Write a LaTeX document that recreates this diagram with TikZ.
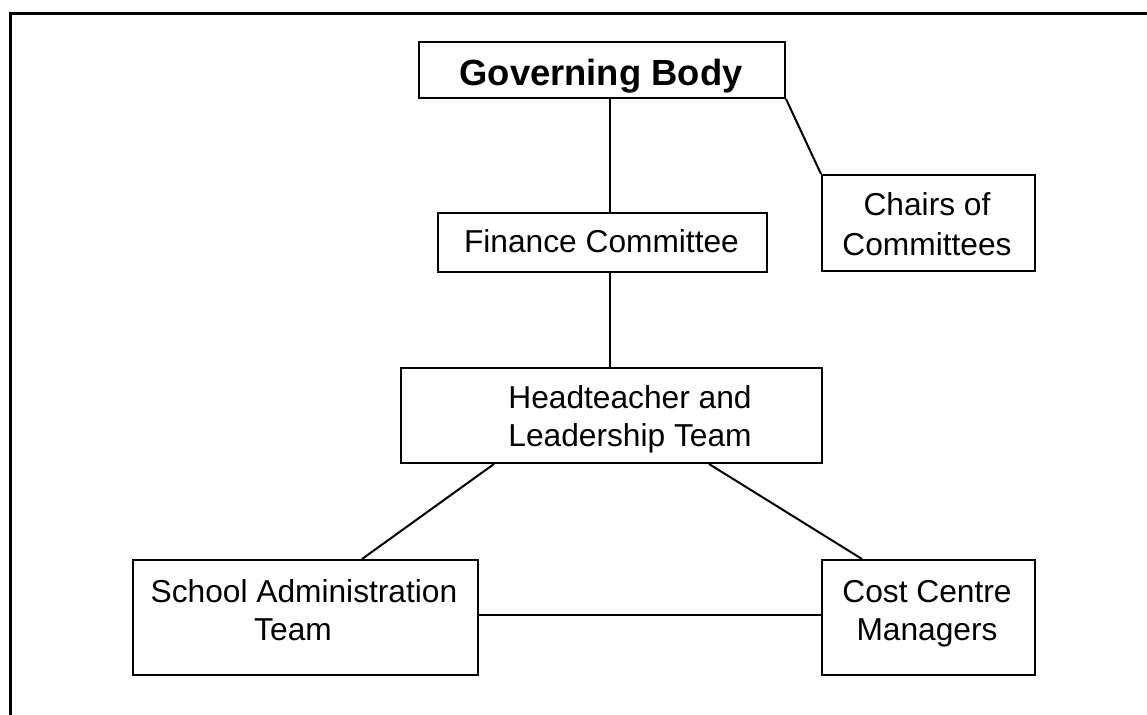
\documentclass[tikz,border=0pt]{standalone}
\usepackage{fontspec}
\setmainfont{Liberation Sans}
\begin{document}
\begin{tikzpicture}[x=1pt,y=-1pt,
  box/.style={draw=black, line width=2pt, rectangle, inner sep=0pt, anchor=north west},
  lbl/.style={anchor=base, inner sep=0pt, font=\fontsize{31.7}{37}\selectfont},
  blbl/.style={anchor=base, inner sep=0pt, font=\fontsize{36.4}{42}\selectfont\bfseries},
  conn/.style={draw=black, line width=2pt}]
\useasboundingbox (0,0) rectangle (1147,714);
\draw[line width=3pt] (1160,14) -- (10.5,14) -- (10.5,730);
% boxes
\node[box, minimum width=366pt, minimum height=56pt] (gb) at (418,41) {};
\node[box, minimum width=329pt, minimum height=59pt] (fc) at (437,212) {};
\node[box, minimum width=213pt, minimum height=96pt] (ch) at (821,174) {};
\node[box, minimum width=421pt, minimum height=95pt] (ht) at (400,367) {};
\node[box, minimum width=345pt, minimum height=115pt] (sa) at (132,559) {};
\node[box, minimum width=213pt, minimum height=115pt] (cc) at (821,559) {};
% texts
\node[blbl] (gbt) at (601,86) {Governing Body};
\node[lbl] (fct) at (601.5,252) {Finance Committee};
\node[lbl] (ch1) at (927,215) {Chairs of};
\node[lbl] (ch2) at (927,255) {Committees};
\node[lbl] (ht1) at (630,408) {Headteacher and};
\node[lbl] (ht2) at (630,446) {Leadership Team};
\node[lbl] (sa1) at (304,602) {School Administration};
\node[lbl] (sa2) at (293,640) {Team};
\node[lbl] (cc1) at (927,602) {Cost Centre};
\node[lbl] (cc2) at (927,640) {Managers};
% connectors
\coordinate (vx) at (610,0);
\coordinate (hta) at (494,0);
\coordinate (htb) at (709,0);
\coordinate (saa) at (362,0);
\coordinate (cca) at (862,0);
\coordinate (hy) at (0,615);
\draw[conn] (vx |- gb.south) -- (vx |- fc.north);
\draw[conn] (vx |- fc.south) -- (vx |- ht.north);
\draw[conn] (gb.south east) -- (ch.north west);
\draw[conn] (hta |- ht.south) -- (saa |- sa.north);
\draw[conn] (htb |- ht.south) -- (cca |- cc.north);
\draw[conn] (sa.east |- hy) -- (cc.west |- hy);
\end{tikzpicture}
\end{document}
